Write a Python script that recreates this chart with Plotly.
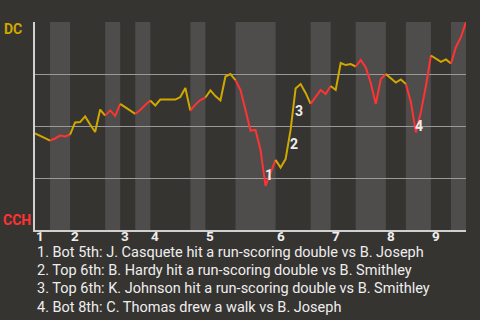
import plotly.graph_objects as go

# Win probability for DC (away team) after each plate appearance (event index 0..86)
win_prob = [
    0.464, 0.454, 0.442, 0.430, 0.440, 0.454, 0.450, 0.459, 0.517, 0.519,
    0.546, 0.507, 0.471, 0.579, 0.550, 0.575, 0.548, 0.606, 0.591, 0.575,
    0.558, 0.577, 0.601, 0.623, 0.599, 0.627, 0.627, 0.627, 0.627, 0.639,
    0.683, 0.574, 0.603, 0.625, 0.637, 0.671, 0.644, 0.623, 0.738, 0.750,
    0.721, 0.673, 0.577, 0.478, 0.481, 0.385, 0.212, 0.274, 0.337, 0.300,
    0.341, 0.481, 0.680, 0.702, 0.659, 0.606, 0.639, 0.673, 0.654, 0.692,
    0.673, 0.803, 0.793, 0.798, 0.786, 0.817, 0.781, 0.707, 0.606, 0.726,
    0.750, 0.731, 0.709, 0.724, 0.702, 0.615, 0.469, 0.567, 0.692, 0.839,
    0.825, 0.808, 0.820, 0.800, 0.880, 0.928, 1.000,
]

# Event index at which each half inning starts (top 1st, bot 1st, top 2nd, ...), plus final index
half_inning_starts = [0, 3, 7, 14, 17, 20, 23, 31, 34, 40, 48, 55, 59, 64, 70, 74, 79, 83, 86]
inning_labels = ["1", "2", "3", "4", "5", "6", "7", "8", "9"]

# Key events
event_labels = ["1", "2", "3", "4"]
event_index = [46, 51, 52, 76]
event_texts = [
    "1. Bot 5th: J. Casquete hit a run-scoring double vs B. Joseph",
    "2. Top 6th: B. Hardy hit a run-scoring double vs B. Smithley",
    "3. Top 6th: K. Johnson hit a run-scoring double vs B. Smithley",
    "4. Bot 8th: C. Thomas drew a walk vs B. Joseph",
]
team_top = "DC"
team_bottom = "CCH"

BG = "#363431"
BAND = "#4e4d4b"
YELLOW = "#cfa800"
RED = "#ff3333"
TEXT = "#eeeeee"
FONT = "Roboto"

fig = go.Figure()
shapes = []
n_halves = len(half_inning_starts) - 1
for h in range(n_halves):
    s, e = half_inning_starts[h], half_inning_starts[h + 1]
    is_bottom = h % 2 == 1
    if is_bottom:
        shapes.append(dict(type="rect", xref="x", yref="y", x0=s, x1=e, y0=0, y1=1,
                           fillcolor=BAND, line=dict(width=0), layer="below"))
    fig.add_trace(go.Scatter(
        x=list(range(s, e + 1)), y=win_prob[s:e + 1], mode="lines",
        line=dict(color=RED if is_bottom else YELLOW, width=2),
        hoverinfo="skip", showlegend=False))

annotations = []
# inning labels
for k, lab in enumerate(inning_labels):
    annotations.append(dict(x=half_inning_starts[2 * k], y=-0.03, xref="x", yref="paper",
                            text="<b>%s</b>" % lab, showarrow=False, xanchor="left",
                            yanchor="middle", borderpad=0,
                            font=dict(family=FONT, size=13.5, color=TEXT)))
# event markers
shifts = [(3, 11), (3.5, -14), (3.5, -22), (3, 6)]
for lab, idx, (dx, dy) in zip(event_labels, event_index, shifts):
    annotations.append(dict(x=idx, y=win_prob[idx], xref="x", yref="y",
                            text="<b>%s</b>" % lab, showarrow=False, xshift=dx, yshift=dy,
                            borderpad=0, font=dict(family=FONT, size=14, color=TEXT)))
# event descriptions
for j, t in enumerate(event_texts):
    annotations.append(dict(x=0, y=-0.106 - 0.0885 * j, xref="paper", yref="paper",
                            text=t, showarrow=False, xanchor="left", yanchor="middle",
                            borderpad=0, xshift=1,
                            font=dict(family=FONT, size=14.5, color=TEXT)))
# team labels
annotations.append(dict(x=-0.076, y=0.966, xref="paper", yref="paper", text="<b>%s</b>" % team_top,
                        showarrow=False, xanchor="left", yanchor="middle",
                        font=dict(family=FONT, size=14, color=YELLOW)))
annotations.append(dict(x=-0.078, y=0.048, xref="paper", yref="paper", text="<b>%s</b>" % team_bottom,
                        showarrow=False, xanchor="left", yanchor="middle",
                        font=dict(family=FONT, size=14, color=RED)))

fig.update_layout(
    width=480, height=320,
    margin=dict(l=35, r=14, t=22, b=90, pad=0),
    paper_bgcolor=BG, plot_bgcolor=BG,
    shapes=shapes, annotations=annotations,
    xaxis=dict(range=[0, half_inning_starts[-1]], showgrid=False, zeroline=False,
               showticklabels=False, ticks="", showline=True, linecolor="#d0d0d0", linewidth=1.5),
    yaxis=dict(range=[0, 1], tickvals=[0.25, 0.5, 0.75, 1.0], showgrid=True,
               gridcolor="#9a9a9a", gridwidth=1, zeroline=False, showticklabels=False,
               ticks="", showline=True, linecolor="#d0d0d0", linewidth=1.5),
)
fig.write_html("out.html")
